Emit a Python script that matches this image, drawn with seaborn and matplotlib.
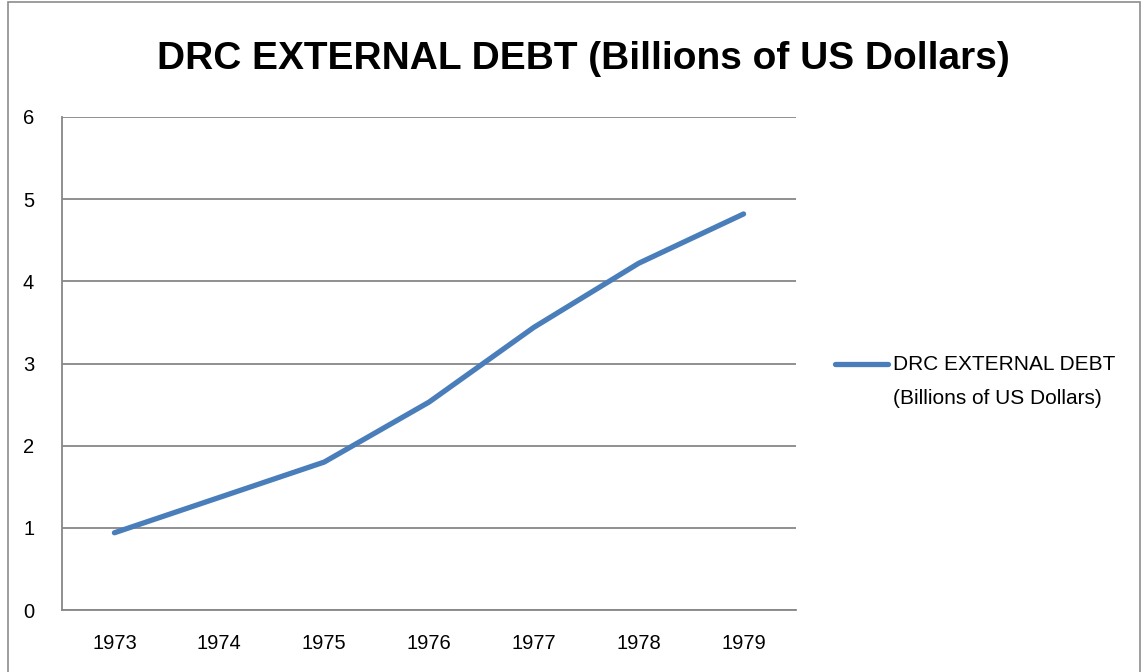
import matplotlib
matplotlib.use("Agg")
import matplotlib.pyplot as plt
import seaborn as sns
import pandas as pd
from matplotlib.patches import Rectangle
from matplotlib.lines import Line2D

years = ["1973", "1974", "1975", "1976", "1977", "1978", "1979"]
debt = [0.94, 1.37, 1.80, 2.53, 3.44, 4.22, 4.82]
series_lines = ["DRC EXTERNAL DEBT", "(Billions of US Dollars)"]
title = "DRC EXTERNAL DEBT (Billions of US Dollars)"
yticks = [0, 1, 2, 3, 4, 5, 6]

sns.set_style("white")
plt.rcParams['font.family'] = ['Liberation Sans', 'DejaVu Sans']
plt.rcParams['text.color'] = 'black'
plt.rcParams['xtick.labelcolor'] = 'black'
plt.rcParams['ytick.labelcolor'] = 'black'

W, H = 1145, 672
line_color = "#4A7EBB"
fig = plt.figure(figsize=(W / 100, H / 100), dpi=100)
ax = fig.add_axes([62 / W, 1 - 610 / H, (796 - 62) / W, (610 - 117) / H])

df = pd.DataFrame({"year": years, "debt": debt})
df["pos"] = range(len(years))
sns.lineplot(data=df, x="pos", y="debt", ax=ax, color=line_color, linewidth=3.8,
             legend=False, solid_capstyle="round", solid_joinstyle="round")

grid_c = "#878787"
ax.set_xlim(-0.5, len(years) - 0.5)
ax.set_ylim(0, 6)
ax.set_yticks(yticks)
ax.set_yticklabels([str(t) for t in yticks], fontsize=14.5)
ax.set_xticks(range(len(years)))
ax.set_xticklabels(years, fontsize=14.5)
ax.set_xticks([i - 0.5 for i in range(len(years) + 1)], minor=True)
ax.tick_params(axis="x", which="major", length=0, pad=17)
ax.tick_params(axis="x", which="minor", length=8, width=1.2, color=grid_c, direction="out")
ax.tick_params(axis="y", which="major", length=6, width=1.2, color=grid_c, direction="out", pad=14)
ax.yaxis.grid(True, color=grid_c, linewidth=1.3)
ax.set_axisbelow(True)
for s in ["top", "right"]:
    ax.spines[s].set_visible(False)
for s in ["left", "bottom"]:
    ax.spines[s].set_color(grid_c)
    ax.spines[s].set_linewidth(1.3)
ax.set_xlabel("")
ax.set_ylabel("")

# legend (handle aligned with first text line, as in the reference)
fig.add_artist(Line2D([835 / W, 888 / W], [1 - 364 / H, 1 - 364 / H],
                      transform=fig.transFigure, color=line_color,
                      linewidth=3.8, solid_capstyle="round"))
fig.text(893 / W, 1 - 364 / H, series_lines[0], ha="left", va="center", fontsize=15)
fig.text(893 / W, 1 - 398 / H, series_lines[1], ha="left", va="center", fontsize=15)

fig.text(583 / W, 1 - 59 / H, title, ha="center", va="center",
         fontsize=28, fontweight="bold")

fig.patches.append(Rectangle((8 / W, -0.05), (1140 - 8) / W, 1.05 - 2 / H,
                             transform=fig.transFigure, fill=False,
                             edgecolor="#8c8c8c", linewidth=1.2))

fig.savefig("out.png", dpi=100)
